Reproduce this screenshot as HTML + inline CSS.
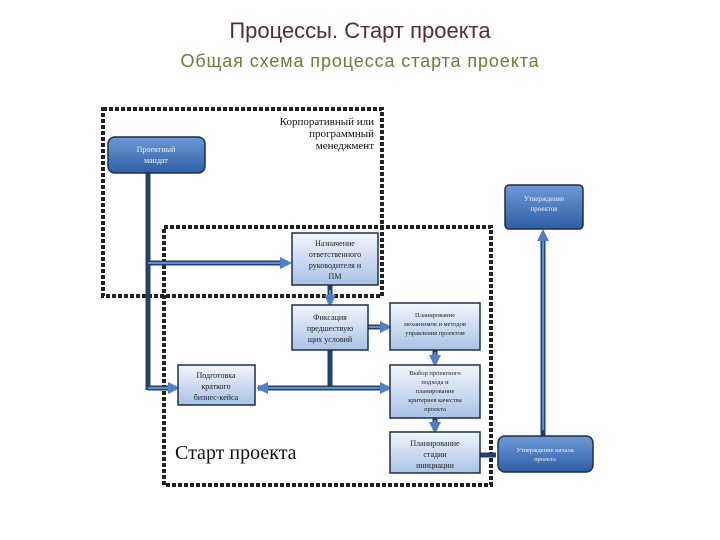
<!DOCTYPE html>
<html><head><meta charset="utf-8"><style>
body{margin:0;background:#fff;width:720px;height:540px;overflow:hidden;position:relative;font-family:"Liberation Sans",sans-serif}
.t{position:absolute;left:0;width:720px;text-align:center}
</style></head><body>
<div class="t" style="top:18px;font-size:22px;color:#5a2a35">Процессы. Старт проекта</div>
<div class="t" style="top:51px;font-size:18px;letter-spacing:0.9px;color:#6b7d3a">Общая схема процесса старта проекта</div>
<svg width="720" height="540" style="position:absolute;left:0;top:0" font-family="Liberation Serif, serif">
<defs>
<linearGradient id="d" x1="0" y1="0" x2="0" y2="1"><stop offset="0" stop-color="#6d9ad6"/><stop offset="1" stop-color="#2f5ea6"/></linearGradient>
<linearGradient id="l" x1="0" y1="0" x2="0" y2="1"><stop offset="0" stop-color="#f2f6fc"/><stop offset="1" stop-color="#a9c2e6"/></linearGradient>
<marker id="a" markerWidth="6" markerHeight="6" refX="5" refY="3" orient="auto"><path d="M0,0 L6,3 L0,6z" fill="#4f7fc4"/></marker>
</defs>
<g fill="none" stroke="#222" stroke-width="4" stroke-dasharray="4 2">
<rect x="103" y="109" width="279" height="187"/>
<rect x="164" y="227" width="327" height="258"/>
</g>
<g stroke="#24416e" stroke-width="5" fill="none">
<path d="M148 173 V390"/><path d="M148 263 H288"/><path d="M148 388 H176"/>
<path d="M330 285 V303"/><path d="M330 350 V388"/><path d="M258 388 H388"/>
<path d="M368 327 H388"/><path d="M435 350 V363"/><path d="M435 418 V430"/>
<path d="M480 455 H496"/><path d="M543 436 V234"/>
</g>
<g stroke="#5d8dcf" stroke-width="2" fill="none" marker-end="url(#a)">
<path d="M148 263 H290"/><path d="M148 388 H178"/><path d="M330 290 V305"/><path d="M330 388 H258"/><path d="M330 388 H390"/>
<path d="M368 327 H390"/><path d="M435 352 V365"/><path d="M435 420 V432"/><path d="M543 430 V231"/>
</g>
<g stroke="#1e2e48" stroke-width="1.5">
<rect x="108" y="137" width="97" height="36" rx="7" fill="url(#d)"/>
<rect x="505" y="185" width="78" height="44" rx="4" fill="url(#d)"/>
<rect x="498" y="436" width="95" height="36" rx="7" fill="url(#d)"/>
<rect x="292" y="233" width="86" height="52" fill="url(#l)"/>
<rect x="292" y="305" width="76" height="45" fill="url(#l)"/>
<rect x="390" y="303" width="90" height="47" fill="url(#l)"/>
<rect x="178" y="365" width="77" height="40" fill="url(#l)"/>
<rect x="390" y="365" width="90" height="53" fill="url(#l)"/>
<rect x="390" y="432" width="90" height="41" fill="url(#l)"/>
</g>
<g font-size="8" text-anchor="middle" fill="#222">
<text x="335" y="246">Назначение</text><text x="335" y="257">ответственного</text><text x="335" y="268">руководителя и</text><text x="335" y="279">ПМ</text>
<text x="330" y="320">Фиксация</text><text x="330" y="331">предшествую</text><text x="330" y="342">щих условий</text>
<text x="435" y="317" font-size="6.5">Планирование</text><text x="435" y="326" font-size="6.5">механизмов и методов</text><text x="435" y="335" font-size="6.5">управления проектом</text>
<text x="216" y="378">Подготовка</text><text x="216" y="389">краткого</text><text x="216" y="400">бизнес-кейса</text>
<text x="435" y="375" font-size="6.5">Выбор проектного</text><text x="435" y="384" font-size="6.5">подхода и</text><text x="435" y="393" font-size="6.5">планирование</text><text x="435" y="402" font-size="6.5">критериев качества</text><text x="435" y="411" font-size="6.5">проекта</text>
<text x="435" y="446">Планирование</text><text x="435" y="457">стадии</text><text x="435" y="468">инициации</text>
</g>
<g font-size="8" text-anchor="middle" fill="#eef3fb">
<text x="156" y="152">Проектный</text><text x="156" y="163">мандат</text>
<text x="544" y="201" font-size="7">Утверждение</text><text x="544" y="211" font-size="7">проектов</text>
<text x="545" y="452" font-size="6.5">Утверждение начала</text><text x="545" y="461" font-size="6.5">проекта</text>
</g>
<g font-size="11" text-anchor="end" fill="#111">
<text x="374" y="125">Корпоративный или</text><text x="374" y="137">программный</text><text x="374" y="149">менеджмент</text>
</g>
<text x="175" y="459" font-size="20" fill="#111">Старт проекта</text>
</svg>
</body></html>
